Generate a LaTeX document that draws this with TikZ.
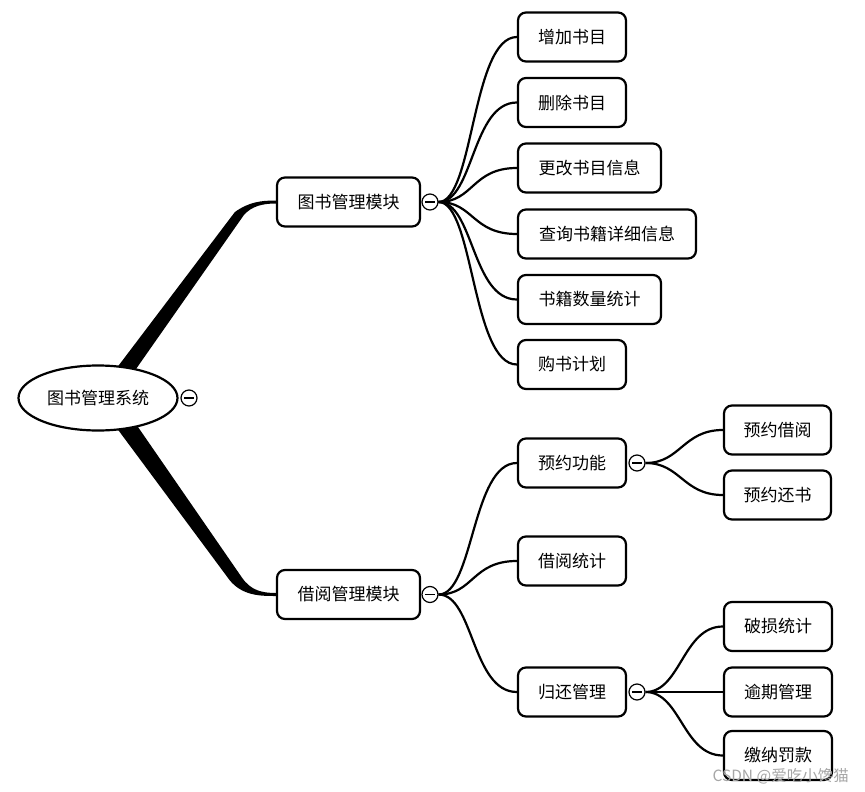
\documentclass[tikz,border=0pt]{standalone}
\usepackage{fontspec}
\setmainfont{Noto Sans CJK SC}
\usetikzlibrary{calc,shapes.geometric}
\pgfdeclarelayer{bg}
\pgfsetlayers{bg,main}
\begin{document}
\begin{tikzpicture}[x=1pt,y=-1pt,
  box/.style={draw,line width=2.2pt,rounded corners=8pt,fill=white,minimum height=49pt,inner sep=0pt,font=\fontsize{17}{20}\selectfont},
  tog/.style={circle,draw,line width=1.2pt,fill=white,minimum size=16pt,inner sep=0pt,
    path picture={\draw[line width=1.2pt] ($(path picture bounding box.center)+(-5,0)$) -- ($(path picture bounding box.center)+(5,0)$);}},
  link/.style={line width=2.2pt}]
\useasboundingbox (0,0) rectangle (865,792);
% root
\node[ellipse,draw,line width=2.2pt,fill=white,minimum width=159pt,minimum height=65pt,inner sep=0pt,font=\fontsize{17}{20}\selectfont] (root) at (98,398) {图书管理系统};
\node[tog] (k0) at (189,398) {};
% level 1
\node[box,minimum width=143pt] (m1) at (348.5,202) {图书管理模块};
\node[box,minimum width=143pt] (m2) at (348.5,594.5) {借阅管理模块};
\node[tog] (k1) at (430,202) {};
\node[tog] (k2) at (430,594.5) {};
% level 2 top
\node[box,minimum width=108pt] (a1) at (572,37) {增加书目};
\node[box,minimum width=108pt] (a2) at (572,102.5) {删除书目};
\node[box,minimum width=143pt] (a3) at (589.5,168) {更改书目信息};
\node[box,minimum width=178pt] (a4) at (607,234) {查询书籍详细信息};
\node[box,minimum width=143pt] (a5) at (589.5,299.5) {书籍数量统计};
\node[box,minimum width=108pt] (a6) at (572,364.5) {购书计划};
% level 2 bottom
\node[box,minimum width=108pt] (b1) at (572,463) {预约功能};
\node[box,minimum width=108pt] (b2) at (572,561) {借阅统计};
\node[box,minimum width=108pt] (b3) at (572,692) {归还管理};
\node[tog] (kb1) at (637,463) {};
\node[tog] (kb3) at (637,692) {};
% level 3
\node[box,minimum width=107pt] (c1) at (777.5,430) {预约借阅};
\node[box,minimum width=107pt] (c2) at (777.5,495) {预约还书};
\node[box,minimum width=108pt] (d1) at (778,626.5) {破损统计};
\node[box,minimum width=108pt] (d2) at (778,692) {逾期管理};
\node[box,minimum width=108pt] (d3) at (778,755.5) {缴纳罚款};
% watermark
\node[text=black!35,font=\fontsize{15.5}{18}\selectfont,anchor=east,inner sep=0pt] (wm) at (849,776) {CSDN @爱吃小馋猫};
\begin{pgfonlayer}{bg}
% tapered trunks
\fill ($(root)+(18,-29)$) -- ($(m1.west)+(-41,10)$) .. controls ($(m1.west)+(-27,0)$) and ($(m1.west)+(-15,-1.5)$) .. ($(m1.west)+(0,-1.5)$)
  -- ($(m1.west)+(0,1.5)$) .. controls ($(m1.west)+(-13,1.5)$) and ($(m1.west)+(-24,4)$) .. ($(m1.west)+(-32,13)$)
  -- ($(root)+(38,-29)$) -- cycle;
\fill ($(root)+(18,29)$) -- ($(m2.west)+(-46,-14)$) .. controls ($(m2.west)+(-33,1.5)$) and ($(m2.west)+(-15,1.5)$) .. ($(m2.west)+(0,1.5)$)
  -- ($(m2.west)+(0,-1.5)$) .. controls ($(m2.west)+(-14,-1.5)$) and ($(m2.west)+(-25,-4)$) .. ($(m2.west)+(-34,-17)$)
  -- ($(root)+(40,29)$) -- cycle;
% links
\foreach \t in {a1,a2,a3,a4,a5,a6}
  \draw[link] (k1.east) .. controls +(35,0) and +(-45,0) .. (\t.west);
\foreach \t in {b1,b2,b3}
  \draw[link] (k2.east) .. controls +(35,0) and +(-45,0) .. (\t.west);
\foreach \t in {c1,c2}
  \draw[link] (kb1.east) .. controls +(35,0) and +(-40,0) .. (\t.west);
\foreach \t in {d1,d2,d3}
  \draw[link] (kb3.east) .. controls +(35,0) and +(-40,0) .. (\t.west);
\end{pgfonlayer}
\end{tikzpicture}
\end{document}
